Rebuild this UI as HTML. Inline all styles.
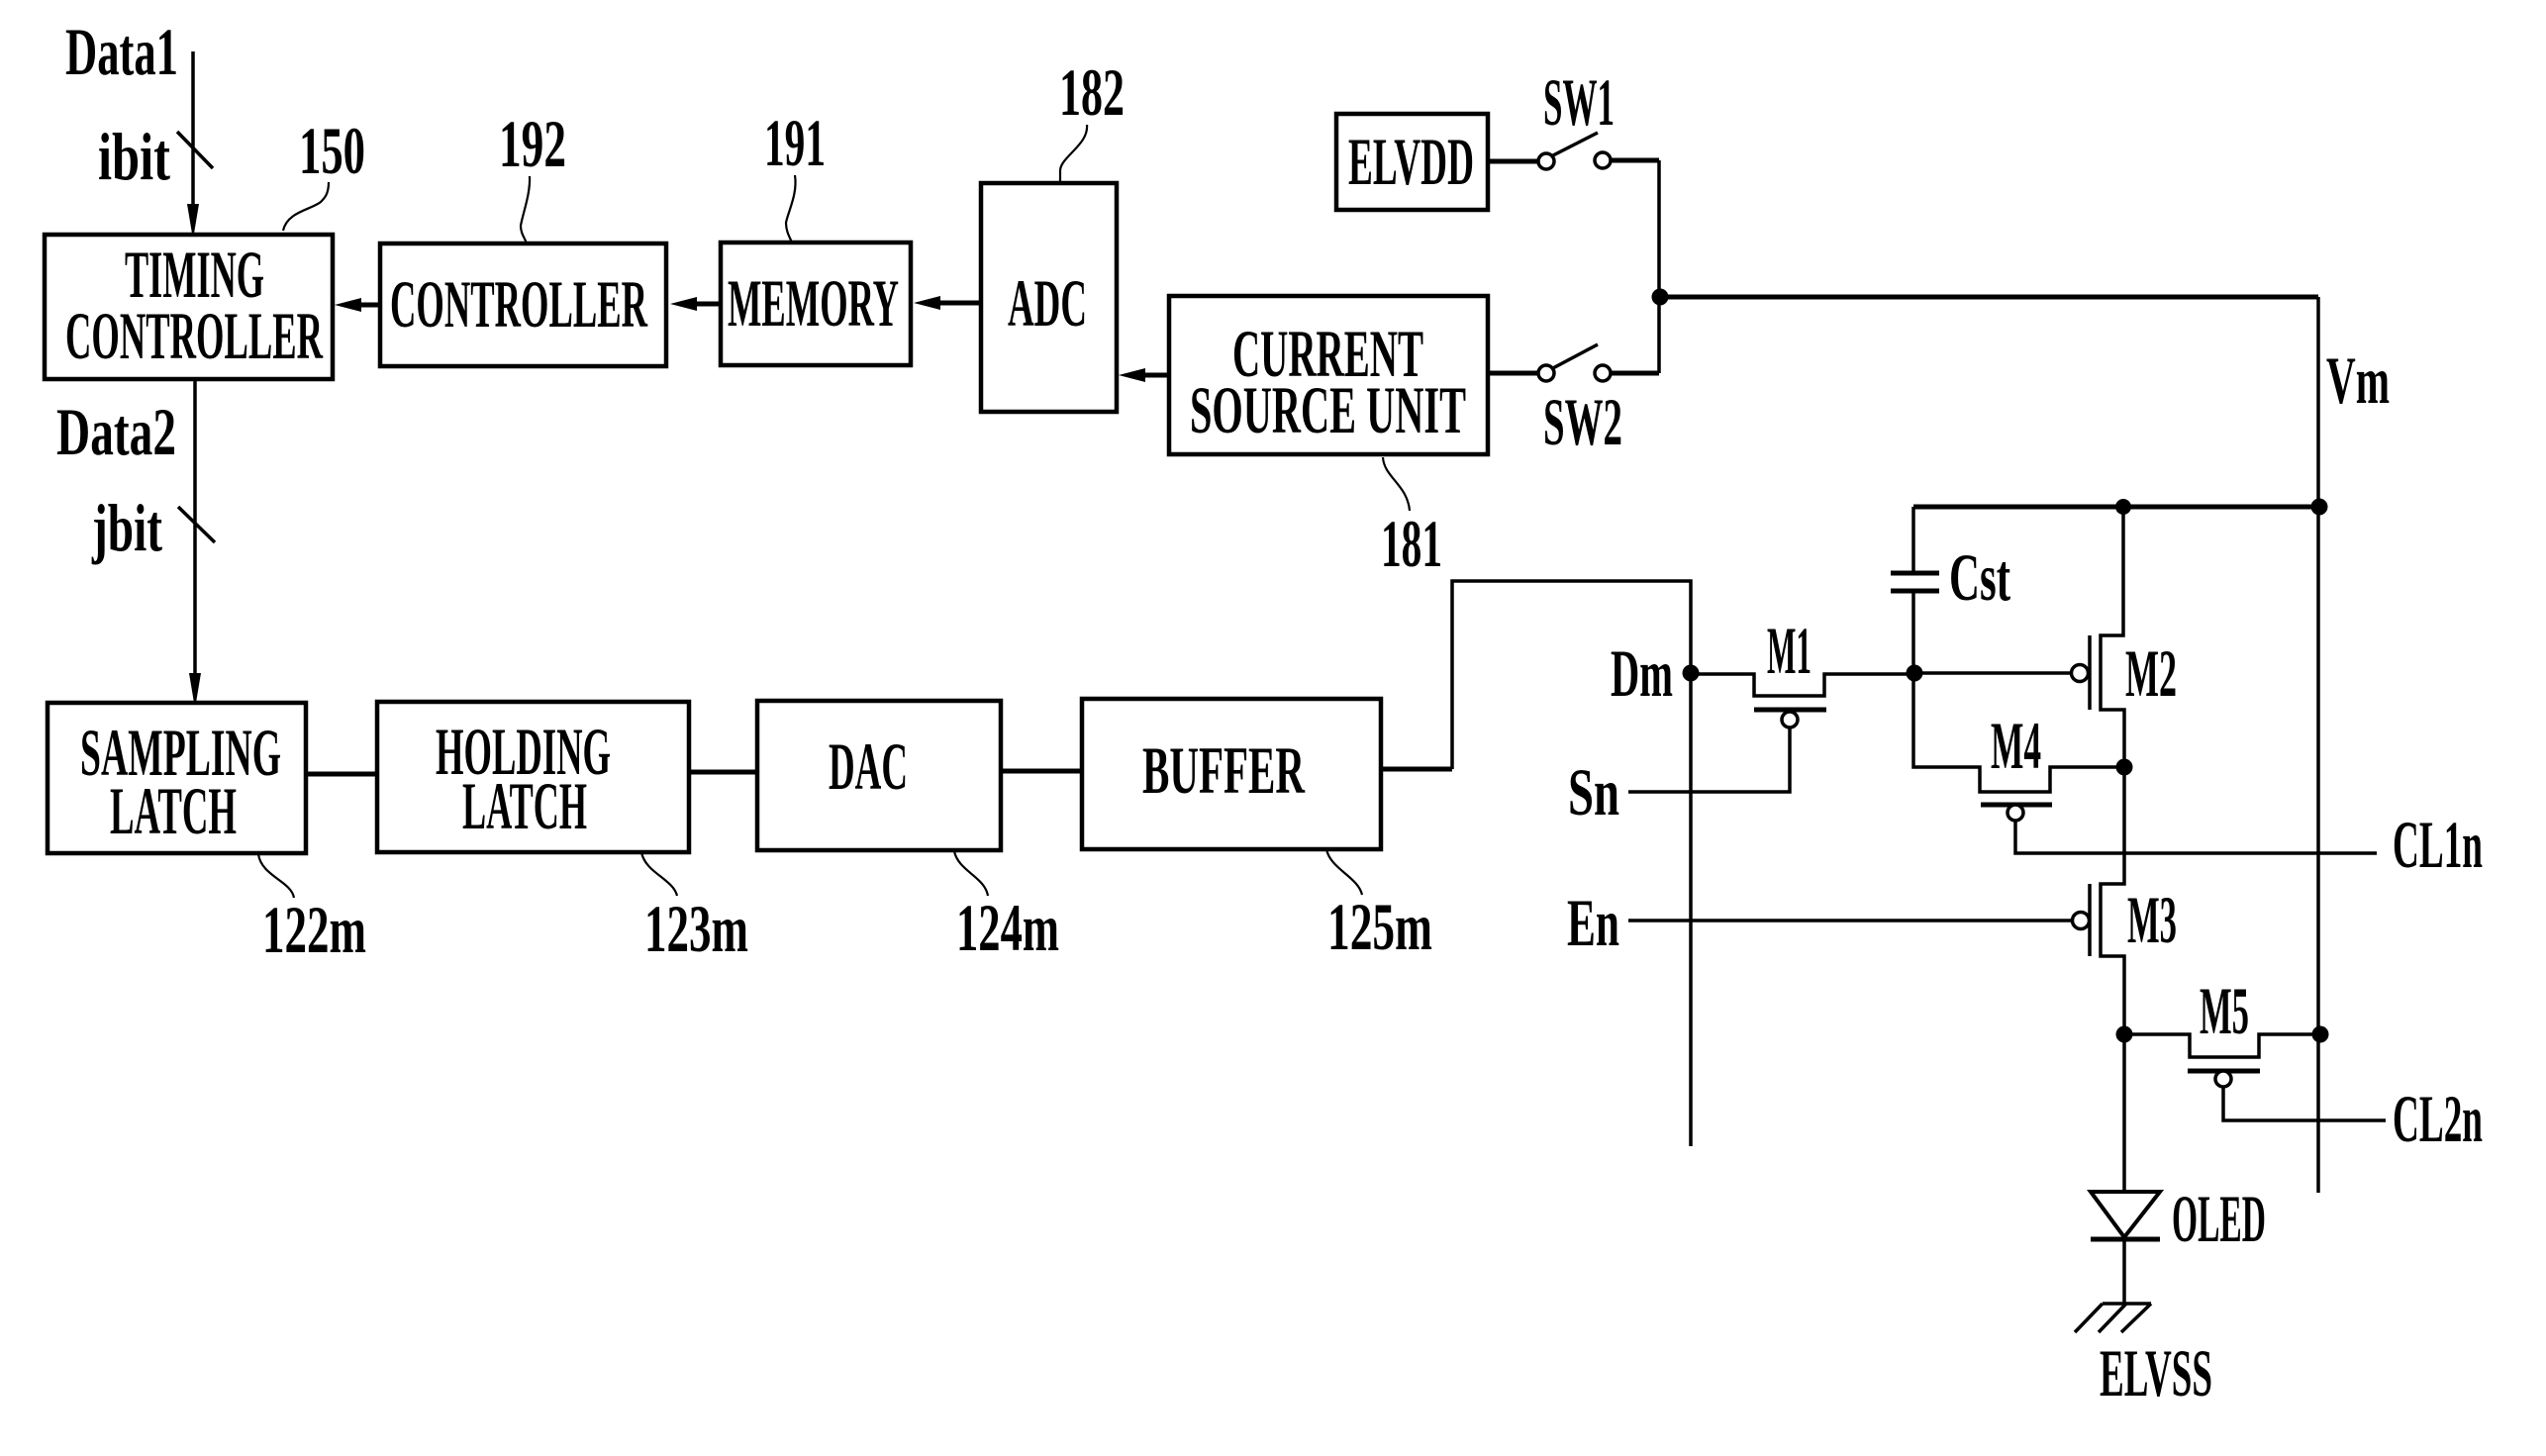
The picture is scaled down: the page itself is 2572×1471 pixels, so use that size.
<!DOCTYPE html>
<html><head><meta charset="utf-8"><style>
html,body{margin:0;padding:0;background:#fff;width:2572px;height:1471px;overflow:hidden}
svg{display:block}
text{font-family:"Liberation Serif",serif;font-weight:bold;font-size:68px;fill:#000}
.w{fill:none;stroke:#000;stroke-width:3.5;stroke-linejoin:miter}
.t{fill:none;stroke:#000;stroke-width:5}
.b{fill:#fff;stroke:#000;stroke-width:4.5}
.l{fill:none;stroke:#000;stroke-width:2.2}
.c{fill:#fff;stroke:#000;stroke-width:3.5}
</style></head><body>
<svg width="2572" height="1471" viewBox="0 0 2572 1471" xmlns="http://www.w3.org/2000/svg">
<rect width="2572" height="1471" fill="#fff"/>

<!-- boxes -->
<rect class="b" x="45" y="237" width="291" height="146"/>
<rect class="b" x="384" y="246" width="289" height="124"/>
<rect class="b" x="728" y="245" width="192" height="124"/>
<rect class="b" x="991" y="185" width="137" height="231"/>
<rect class="b" x="1181" y="299" width="322" height="160"/>
<rect class="b" x="1350" y="115" width="153" height="97"/>
<rect class="b" x="48" y="710" width="261" height="152"/>
<rect class="b" x="381" y="709" width="315" height="152"/>
<rect class="b" x="765" y="708" width="246" height="151"/>
<rect class="b" x="1093" y="706" width="302" height="152"/>

<!-- data lines -->
<path class="w" d="M195 52V210"/>
<polygon points="189,206 201,206 196,236 194,236"/>
<path class="w" d="M179 133L215 170"/>
<path class="w" d="M197 383V684"/>
<polygon points="191,680 203,680 198,710 196,710"/>
<path class="w" d="M180 512L217 548"/>

<!-- arrows between upper blocks -->
<path class="t" d="M360 308H384"/><polygon points="338,308 365,301 365,315"/>
<path class="t" d="M700 307H728"/><polygon points="677,307 704,300 704,314"/>
<path class="t" d="M945 306H991"/><polygon points="923,306 950,299 950,313"/>
<path class="t" d="M1152 379H1181"/><polygon points="1130,379 1157,372 1157,386"/>

<!-- lower block links -->
<path class="t" d="M309 782H381"/>
<path class="t" d="M696 780H766"/>
<path class="t" d="M1011 779H1094"/>
<path class="t" d="M1395 777H1467"/>
<path class="w" d="M1467 777V587H1708V1158"/>

<!-- leaders -->
<path class="l" d="M332 184C332 196 328 200 324 204C314 212 290 214 286 233"/>
<path class="l" d="M535 178C536 196 528 216 526 228C526 236 530 240 532 246"/>
<path class="l" d="M803 177C806 196 796 214 794 225C794 234 798 240 800 245"/>
<path class="l" d="M1098 126C1100 146 1072 158 1071 172V184"/>
<path class="l" d="M1397 462C1398 482 1422 490 1424 516"/>
<path class="l" d="M261 863C264 885 294 890 297 907"/>
<path class="l" d="M648 861C652 882 680 888 684 905"/>
<path class="l" d="M964 860C968 880 995 886 998 905"/>
<path class="l" d="M1340 858C1344 878 1372 886 1376 904"/>

<!-- switches -->
<path class="t" d="M1503 163H1553"/>
<path class="t" d="M1626 162H1676"/>
<path class="w" d="M1565 159L1614 134"/>
<circle class="c" cx="1562" cy="163" r="8"/>
<circle class="c" cx="1619" cy="162" r="8"/>
<path class="t" d="M1503 377H1553"/>
<path class="t" d="M1626 377H1676"/>
<path class="w" d="M1565 374L1614 348"/>
<circle class="c" cx="1562" cy="377" r="8"/>
<circle class="c" cx="1619" cy="377" r="8"/>
<path class="w" d="M1676 162V377"/>
<circle cx="1677" cy="300" r="8.5"/>
<path class="t" d="M1677 300H2342"/>
<path class="w" d="M2342 300V1205"/>

<!-- pixel circuit -->
<path class="t" d="M1933 512H2343"/>
<circle cx="2145" cy="512" r="8"/>
<circle cx="2343" cy="512" r="8.5"/>
<path class="w" d="M1933 512V579M1933 597V775H2000V800H2071V775H2146"/>
<path class="t" d="M1910 579H1959M1910 597H1959"/>
<circle cx="1708" cy="680" r="8.5"/>
<path class="w" d="M1708 681H1772V703H1843V681H1936"/>
<path class="t" d="M1772 717H1845"/>
<circle class="c" cx="1808" cy="727" r="8"/>
<path class="w" d="M1808 735V800H1645"/>
<circle cx="1934" cy="680" r="8.5"/>
<path class="w" d="M1936 680H2093"/>
<circle class="c" cx="2101" cy="680" r="8.5"/>
<path class="w" d="M2111 642V717"/>
<path class="w" d="M2145 512V642H2122V717H2146V893H2122V966H2146V1204"/>
<circle cx="2146" cy="775" r="8.5"/>
<path class="t" d="M2001 813H2073"/>
<circle class="c" cx="2036" cy="821" r="8"/>
<path class="w" d="M2036 829V862H2401"/>
<path class="w" d="M1645 930H2093"/>
<circle class="c" cx="2102" cy="930" r="8.5"/>
<path class="w" d="M2111 893V966"/>
<circle cx="2146" cy="1045" r="8.5"/>
<path class="w" d="M2146 1045H2212V1068H2282V1045H2344"/>
<circle cx="2344" cy="1045" r="8.5"/>
<path class="t" d="M2210 1082H2283"/>
<circle class="c" cx="2246" cy="1090" r="8"/>
<path class="w" d="M2246 1098V1132H2410"/>

<!-- OLED and ground -->
<polygon class="c" points="2112,1204 2182,1204 2146,1250" style="stroke-width:4"/>
<path class="t" d="M2112 1252H2182"/>
<path class="w" d="M2146 1252V1317"/>
<path class="w" d="M2124 1317H2173M2124 1317L2096 1346M2148 1317L2120 1346M2173 1317L2143 1346"/>

<!-- labels -->
<text x="66" y="75" textLength="114" lengthAdjust="spacingAndGlyphs">Data1</text>
<text x="99" y="181" textLength="73" lengthAdjust="spacingAndGlyphs">ibit</text>
<text x="302" y="175" textLength="67" lengthAdjust="spacingAndGlyphs">150</text>
<text x="504" y="168" textLength="68" lengthAdjust="spacingAndGlyphs">192</text>
<text x="772" y="167" textLength="62" lengthAdjust="spacingAndGlyphs">191</text>
<text x="1070" y="116" textLength="66" lengthAdjust="spacingAndGlyphs">182</text>
<text x="57" y="459" textLength="121" lengthAdjust="spacingAndGlyphs">Data2</text>
<text x="93" y="556" textLength="71" lengthAdjust="spacingAndGlyphs">jbit</text>
<text x="126" y="300" textLength="141" lengthAdjust="spacingAndGlyphs">TIMING</text>
<text x="66" y="362" textLength="260" lengthAdjust="spacingAndGlyphs">CONTROLLER</text>
<text x="394" y="330" textLength="260" lengthAdjust="spacingAndGlyphs">CONTROLLER</text>
<text x="735" y="329" textLength="173" lengthAdjust="spacingAndGlyphs">MEMORY</text>
<text x="1018" y="329" textLength="80" lengthAdjust="spacingAndGlyphs">ADC</text>
<text x="1245" y="380" textLength="193" lengthAdjust="spacingAndGlyphs">CURRENT</text>
<text x="1202" y="437" textLength="279" lengthAdjust="spacingAndGlyphs">SOURCE UNIT</text>
<text x="1362" y="186" textLength="127" lengthAdjust="spacingAndGlyphs">ELVDD</text>
<text x="1559" y="126" textLength="72" lengthAdjust="spacingAndGlyphs">SW1</text>
<text x="1559" y="449" textLength="80" lengthAdjust="spacingAndGlyphs">SW2</text>
<text x="2350" y="407" textLength="64" lengthAdjust="spacingAndGlyphs">Vm</text>
<text x="1395" y="572" textLength="62" lengthAdjust="spacingAndGlyphs">181</text>
<text x="81" y="783" textLength="203" lengthAdjust="spacingAndGlyphs">SAMPLING</text>
<text x="111" y="842" textLength="128" lengthAdjust="spacingAndGlyphs">LATCH</text>
<text x="440" y="782" textLength="177" lengthAdjust="spacingAndGlyphs">HOLDING</text>
<text x="467" y="837" textLength="126" lengthAdjust="spacingAndGlyphs">LATCH</text>
<text x="837" y="797" textLength="80" lengthAdjust="spacingAndGlyphs">DAC</text>
<text x="1154" y="801" textLength="164" lengthAdjust="spacingAndGlyphs">BUFFER</text>
<text x="265" y="962" textLength="105" lengthAdjust="spacingAndGlyphs">122m</text>
<text x="651" y="961" textLength="105" lengthAdjust="spacingAndGlyphs">123m</text>
<text x="966" y="960" textLength="104" lengthAdjust="spacingAndGlyphs">124m</text>
<text x="1341" y="959" textLength="106" lengthAdjust="spacingAndGlyphs">125m</text>
<text x="1627" y="703" textLength="63" lengthAdjust="spacingAndGlyphs">Dm</text>
<text x="1584" y="823" textLength="52" lengthAdjust="spacingAndGlyphs">Sn</text>
<text x="1583" y="955" textLength="53" lengthAdjust="spacingAndGlyphs">En</text>
<text x="1785" y="680" textLength="45" lengthAdjust="spacingAndGlyphs">M1</text>
<text x="1969" y="606" textLength="62" lengthAdjust="spacingAndGlyphs">Cst</text>
<text x="2147" y="703" textLength="52" lengthAdjust="spacingAndGlyphs">M2</text>
<text x="2011" y="776" textLength="51" lengthAdjust="spacingAndGlyphs">M4</text>
<text x="2149" y="952" textLength="50" lengthAdjust="spacingAndGlyphs">M3</text>
<text x="2222" y="1044" textLength="50" lengthAdjust="spacingAndGlyphs">M5</text>
<text x="2417" y="876" textLength="91" lengthAdjust="spacingAndGlyphs">CL1n</text>
<text x="2417" y="1153" textLength="91" lengthAdjust="spacingAndGlyphs">CL2n</text>
<text x="2194" y="1254" textLength="95" lengthAdjust="spacingAndGlyphs">OLED</text>
<text x="2121" y="1410" textLength="114" lengthAdjust="spacingAndGlyphs">ELVSS</text>
</svg>
</body></html>
